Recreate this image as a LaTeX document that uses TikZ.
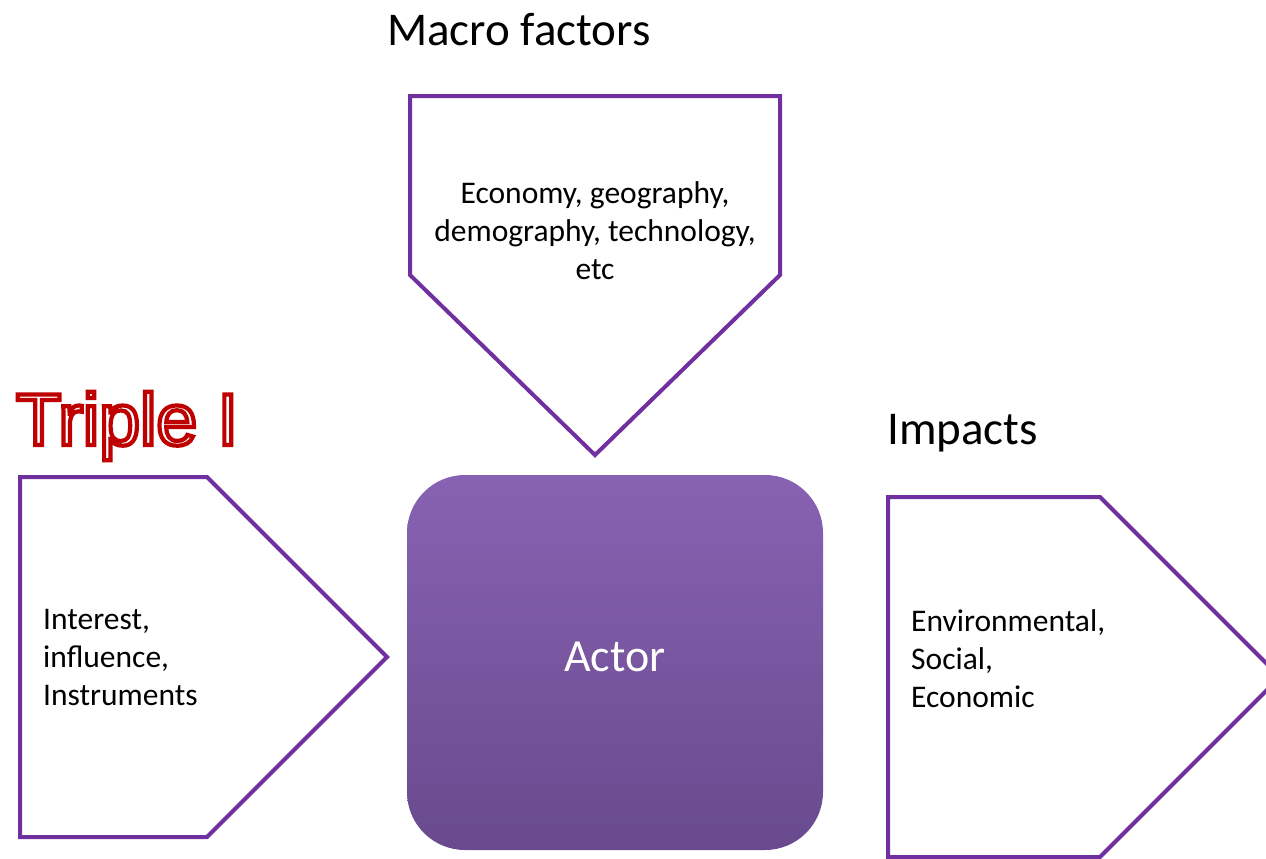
\documentclass[tikz,border=0pt]{standalone}
\usepackage{fontspec}
\setmainfont{Carlito}
\newfontfamily\arialfont{Liberation Sans}
\definecolor{penpurple}{HTML}{7030A0}
\definecolor{actortop}{HTML}{8862B2}
\definecolor{actorbot}{HTML}{684A8D}
\newcommand{\outlinedtext}[1]{{\color{white}\special{pdf:literal direct 0.75 0 0 RG 4.2 w 2 Tr}#1\special{pdf:literal direct 0 Tr 1 w}}}
\tikzset{
  pent/.style={draw=penpurple, line width=4pt, line join=miter, fill=white},
  bodytext/.style={font=\fontsize{31.5}{38}\selectfont, align=left, inner sep=0pt, text=black},
  heading/.style={font=\fontsize{47}{56}\selectfont, inner sep=0pt, text=black},
}
\begin{document}
\begin{tikzpicture}[x=1pt, y=-1pt]
\useasboundingbox (0,0) rectangle (1266,859);
\fill[white] (0,0) rectangle (1266,859);

% top pentagon (macro factors)
\coordinate (t1) at (410,96);
\coordinate (t2) at (780,96);
\coordinate (t3) at (780,275);
\coordinate (ttip) at (595,455);
\coordinate (t5) at (410,275);
\draw[pent] (t1) -- (t2) -- (t3) -- (ttip) -- (t5) -- cycle;

% left pentagon
\coordinate (l1) at (20,477);
\coordinate (l2) at (207,477);
\coordinate (ltip) at (387,657);
\coordinate (l4) at (207,837);
\coordinate (l5) at (20,837);
\draw[pent] (l1) -- (l2) -- (ltip) -- (l4) -- (l5) -- cycle;

% right pentagon
\coordinate (r1) at (888,497);
\coordinate (r2) at (1100,497);
\coordinate (rtip) at (1280,677);
\coordinate (r4) at (1100,857);
\coordinate (r5) at (888,857);
\draw[pent] (r1) -- (r2) -- (rtip) -- (r4) -- (r5) -- cycle;

% actor box
\shade[top color=actortop, bottom color=actorbot, rounded corners=58pt]
  (407,475) rectangle (823,850);
\node[font=\fontsize{46}{55}\selectfont, text=white, inner sep=0pt] (actor) at (615,657) {Actor};

% texts
\node[heading, anchor=west] (macro) at (387,30) {Macro factors};
\node[heading, anchor=west] (impacts) at (887,433) {Impacts};
\node[anchor=west, inner sep=0pt, font=\arialfont\fontsize{73.5}{80}\selectfont] (triple) at (16,426)
  {\outlinedtext{Triple I}};

\node[bodytext, align=center] (macrotext) at (595,231)
  {Economy, geography,\\demography, technology,\\etc};
\node[bodytext, anchor=west] (lefttext) at (43,658)
  {Interest,\\influence,\\Instruments};
\node[bodytext, anchor=west] (righttext) at (911,659)
  {Environmental,\\Social,\\Economic};
\end{tikzpicture}
\end{document}
